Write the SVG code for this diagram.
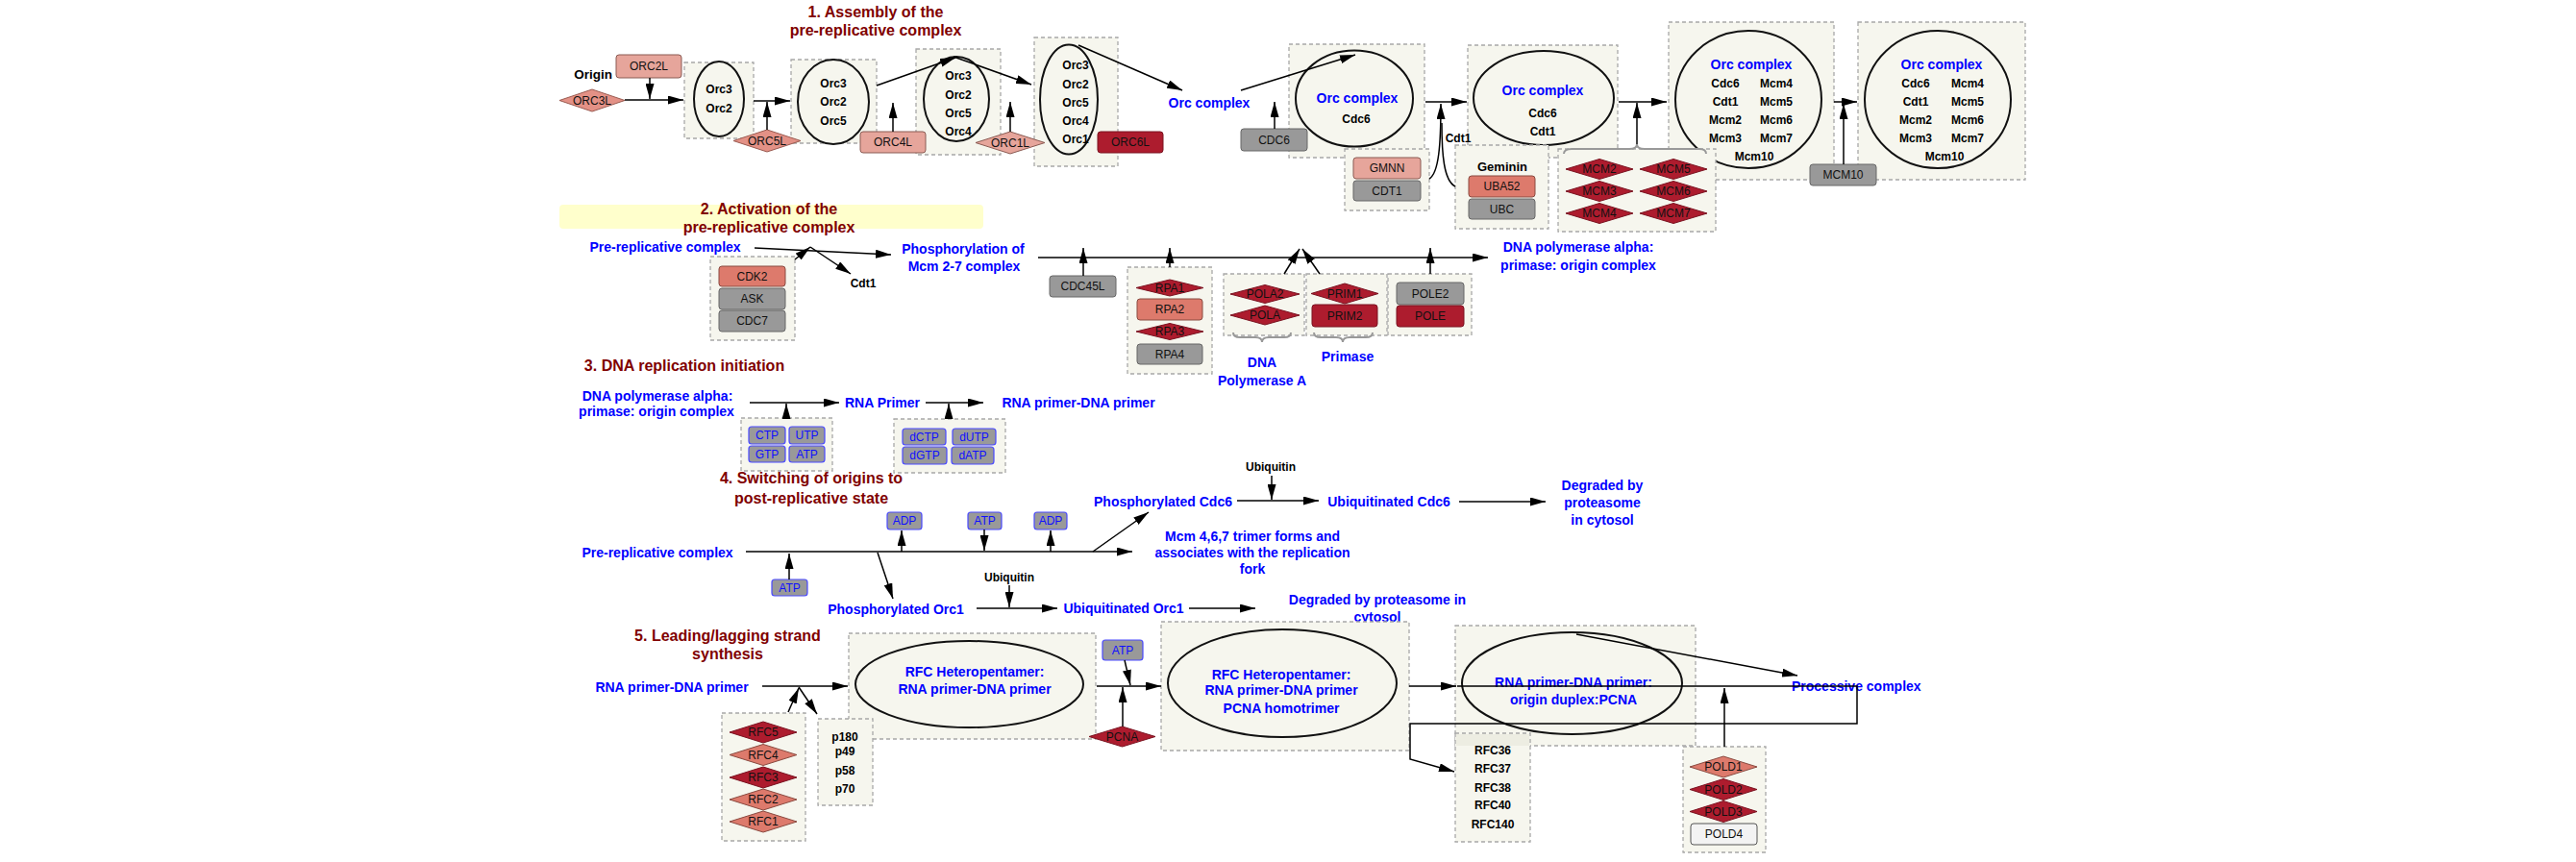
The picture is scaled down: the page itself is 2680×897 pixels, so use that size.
<svg xmlns="http://www.w3.org/2000/svg" width="2680" height="897" viewBox="0 0 2680 897">
<defs>
<marker id="a" viewBox="0 0 16 9" refX="16" refY="4.5" markerWidth="16" markerHeight="9" markerUnits="userSpaceOnUse" orient="auto"><path d="M0,0 L16,4.5 L0,9 Z" fill="#000"/></marker>
<style>
text{font-family:"Liberation Sans",Arial,sans-serif;dominant-baseline:central;text-anchor:middle}
.bx{fill:#F6F6EE;stroke:#A8A8A8;stroke-width:1.3;stroke-dasharray:4 3}
.el{fill:#F6F6EE;stroke:#111;stroke-width:2}
.dr{fill:#AD1C2E;stroke:#7A1220;stroke-width:1}
.sl{fill:#E6A59B;stroke:#8A5A52;stroke-width:1}
.sd{fill:#E39186;stroke:#9A5A50;stroke-width:1}
.sm{fill:#DD7A6C;stroke:#8A4A40;stroke-width:1}
.gr{fill:#999999;stroke:#666;stroke-width:1}
.nt{fill:#999999;stroke:#4A4AFF;stroke-width:1.2}
.wh{fill:#F3F3F3;stroke:#555;stroke-width:1}
.t{font-size:12px;fill:#111}
.nb{font-size:12px;fill:#1010FF}
.b{font-size:12px;font-weight:bold;fill:#000}
.bl{font-size:14px;font-weight:bold;fill:#0000FF}
.h{font-size:16px;font-weight:bold;fill:#800000}
.c line,.c path,.c polyline{stroke:#000;stroke-width:1.5;fill:none;marker-end:url(#a)}
.br{fill:none;stroke:#999;stroke-width:2}
</style>
</defs>
<rect width="2680" height="897" fill="#fff"/>

<!-- Section 1 -->
<g id="title1"><text class="h" x="911" y="12">1. Assembly of the</text><text class="h" x="911" y="31">pre-replicative complex</text></g>
<g id="origin"><text class="b" x="617" y="77" style="font-size:13.5px">Origin</text></g>
<g id="ORC2L"><rect class="sl" x="641" y="57" width="68" height="24" rx="3"/><text class="t" x="675" y="69">ORC2L</text></g>
<g id="ORC3L"><polygon class="sd" points="582,104.5 616,93 650,104.5 616,116"/><text class="t" x="616" y="104.5">ORC3L</text></g>
<g id="c1"><rect class="bx" x="712" y="65" width="72" height="79"/><ellipse class="el" cx="748" cy="103" rx="26" ry="39"/><text class="b" x="748" y="93">Orc3</text><text class="b" x="748" y="113">Orc2</text></g>
<g id="c2"><rect class="bx" x="823" y="62" width="89" height="87"/><ellipse class="el" cx="867" cy="106" rx="37" ry="44"/><text class="b" x="867" y="87">Orc3</text><text class="b" x="867" y="106">Orc2</text><text class="b" x="867" y="126">Orc5</text></g>
<g id="ORC5L"><polygon class="sd" points="763,146.5 798,135 833,146.5 798,158"/><text class="t" x="798" y="146.5">ORC5L</text></g>
<g id="c3"><rect class="bx" x="953" y="51" width="88" height="110"/><ellipse class="el" cx="995" cy="103" rx="34" ry="44"/><text class="b" x="997" y="79">Orc3</text><text class="b" x="997" y="99">Orc2</text><text class="b" x="997" y="118">Orc5</text><text class="b" x="997" y="137">Orc4</text></g>
<g id="ORC4L"><rect class="sl" x="895" y="137" width="68" height="22" rx="3"/><text class="t" x="929" y="148">ORC4L</text></g>
<g id="c4"><rect class="bx" x="1076" y="39" width="87" height="134"/><ellipse class="el" cx="1112" cy="103.5" rx="30" ry="57"/><text class="b" x="1119" y="68">Orc3</text><text class="b" x="1119" y="88">Orc2</text><text class="b" x="1119" y="107">Orc5</text><text class="b" x="1119" y="126">Orc4</text><text class="b" x="1119" y="145">Orc1</text></g>
<g id="ORC1L"><polygon class="sl" points="1015,148.5 1051,137 1087,148.5 1051,160"/><text class="t" x="1051" y="148.5">ORC1L</text></g>
<g id="ORC6L"><rect class="dr" x="1142" y="137" width="68" height="22" rx="3"/><text class="t" x="1176" y="148">ORC6L</text></g>
<g id="orccomplex1"><text class="bl" x="1258" y="107">Orc complex</text></g>
<g id="c5"><rect class="bx" x="1341" y="46" width="141" height="118"/><ellipse class="el" cx="1409" cy="102.5" rx="61" ry="50"/><text class="bl" x="1412" y="102">Orc complex</text><text class="b" x="1411" y="124">Cdc6</text></g>
<g id="CDC6"><rect class="gr" x="1291" y="134" width="69" height="23" rx="3"/><text class="t" x="1325.5" y="145.5">CDC6</text></g>
<g id="gmnn"><rect class="bx" x="1399" y="155" width="88" height="64"/><rect class="sl" x="1408" y="164" width="70" height="22" rx="3"/><text class="t" x="1443" y="175">GMNN</text><rect class="gr" x="1408" y="188" width="70" height="21" rx="3"/><text class="t" x="1443" y="198.5">CDT1</text></g>
<g id="c7"><rect class="bx" x="1527" y="47" width="156" height="117"/><ellipse class="el" cx="1606" cy="102" rx="73" ry="49"/><text class="bl" x="1605" y="94">Orc complex</text><text class="b" x="1605" y="118">Cdc6</text><text class="b" x="1605" y="137">Cdt1</text></g>
<g id="geminin"><rect class="bx" x="1514" y="151" width="97" height="87"/><text class="b" x="1563" y="173" style="font-size:13px">Geminin</text><rect class="sm" x="1528" y="183" width="69" height="22" rx="3"/><text class="t" x="1562.5" y="194">UBA52</text><rect class="gr" x="1528" y="207" width="69" height="21" rx="3"/><text class="t" x="1562.5" y="217.5">UBC</text></g>
<g id="cdt1label"><text class="b" x="1517" y="144">Cdt1</text></g>
<g id="c9"><rect class="bx" x="1736" y="23" width="172" height="164"/><ellipse class="el" cx="1819" cy="103.5" rx="76" ry="71.5"/><text class="bl" x="1822" y="67">Orc complex</text>
<text class="b" x="1795" y="87">Cdc6</text><text class="b" x="1795" y="106">Cdt1</text><text class="b" x="1795" y="125">Mcm2</text><text class="b" x="1795" y="144">Mcm3</text>
<text class="b" x="1848" y="87">Mcm4</text><text class="b" x="1848" y="106">Mcm5</text><text class="b" x="1848" y="125">Mcm6</text><text class="b" x="1848" y="144">Mcm7</text><text class="b" x="1825" y="163">Mcm10</text></g>
<g id="mcm"><rect class="bx" x="1621" y="155" width="164" height="86"/>
<polygon class="dr" points="1629,176 1664,165.5 1699,176 1664,186.5"/><text class="t" x="1664" y="176">MCM2</text>
<polygon class="dr" points="1706,176 1741,165.5 1776,176 1741,186.5"/><text class="t" x="1741" y="176">MCM5</text>
<polygon class="dr" points="1629,199 1664,188.5 1699,199 1664,209.5"/><text class="t" x="1664" y="199">MCM3</text>
<polygon class="dr" points="1706,199 1741,188.5 1776,199 1741,209.5"/><text class="t" x="1741" y="199">MCM6</text>
<polygon class="dr" points="1629,222 1664,211.5 1699,222 1664,232.5"/><text class="t" x="1664" y="222">MCM4</text>
<polygon class="dr" points="1706,222 1741,211.5 1776,222 1741,232.5"/><text class="t" x="1741" y="222">MCM7</text>
<path class="br" d="M1627,160 Q1627,155 1635,155 L1695,155 Q1703,155 1703,150 Q1703,155 1711,155 L1768,155 Q1775,155 1775,160"/></g>
<g id="c10"><rect class="bx" x="1933" y="23" width="174" height="164"/><ellipse class="el" cx="2016" cy="103.5" rx="76" ry="71.5"/><text class="bl" x="2020" y="67">Orc complex</text>
<text class="b" x="1993" y="87">Cdc6</text><text class="b" x="1993" y="106">Cdt1</text><text class="b" x="1993" y="125">Mcm2</text><text class="b" x="1993" y="144">Mcm3</text>
<text class="b" x="2047" y="87">Mcm4</text><text class="b" x="2047" y="106">Mcm5</text><text class="b" x="2047" y="125">Mcm6</text><text class="b" x="2047" y="144">Mcm7</text><text class="b" x="2023" y="163">Mcm10</text></g>
<g id="MCM10"><rect class="gr" x="1883" y="171" width="69" height="22" rx="3"/><text class="t" x="1917.5" y="182">MCM10</text></g>

<!-- Section 2 -->
<g id="title2"><rect x="582" y="213" width="441" height="25" rx="4" fill="#FFFFCC"/><text class="h" x="800" y="217">2. Activation of the</text><text class="h" x="800" y="236">pre-replicative complex</text></g>
<g id="prerep2"><text class="bl" x="692" y="257">Pre-replicative complex</text></g>
<g id="cdk"><rect class="bx" x="739" y="267" width="88" height="87"/><rect class="sm" x="748" y="277" width="69" height="21" rx="3"/><text class="t" x="782.5" y="287.5">CDK2</text><rect class="gr" x="748" y="300" width="69" height="22" rx="3"/><text class="t" x="782.5" y="311">ASK</text><rect class="gr" x="748" y="323" width="69" height="22" rx="3"/><text class="t" x="782.5" y="334">CDC7</text></g>
<g id="cdt1b"><text class="b" x="898" y="295">Cdt1</text></g>
<g id="phosmcm"><text class="bl" x="1002" y="259">Phosphorylation of</text><text class="bl" x="1003" y="277">Mcm 2-7 complex</text></g>
<g id="CDC45L"><rect class="gr" x="1092" y="287" width="69" height="22" rx="3"/><text class="t" x="1126.5" y="298">CDC45L</text></g>
<g id="rpa"><rect class="bx" x="1173" y="278" width="88" height="111"/>
<polygon class="dr" points="1182,299.5 1217,291 1252,299.5 1217,308"/><text class="t" x="1217" y="299.5">RPA1</text>
<rect class="sm" x="1183" y="311" width="68" height="22" rx="3"/><text class="t" x="1217" y="322">RPA2</text>
<polygon class="dr" points="1182,345 1217,336.5 1252,345 1217,353.5"/><text class="t" x="1217" y="345">RPA3</text>
<rect class="gr" x="1183" y="358" width="68" height="21" rx="3"/><text class="t" x="1217" y="368.5">RPA4</text></g>
<g id="pola"><rect class="bx" x="1273" y="285" width="84" height="64"/>
<polygon class="dr" points="1280,306 1316,296.5 1352,306 1316,315.5"/><text class="t" x="1316" y="306">POLA2</text>
<polygon class="dr" points="1280,328 1316,318 1352,328 1316,338"/><text class="t" x="1316" y="328">POLA</text>
<path class="br" d="M1283,346 Q1283,351 1290,351 L1306,351 Q1313,351 1313,356 Q1313,351 1320,351 L1336,351 Q1343,351 1343,346"/>
<text class="bl" x="1313" y="377">DNA</text><text class="bl" x="1313" y="396">Polymerase A</text></g>
<g id="primase"><rect class="bx" x="1359" y="285" width="84" height="64"/>
<polygon class="dr" points="1364,305.5 1399,295 1434,305.5 1399,316"/><text class="t" x="1399" y="305.5">PRIM1</text>
<rect class="dr" x="1365" y="317" width="68" height="23" rx="3"/><text class="t" x="1399" y="328.5">PRIM2</text>
<path class="br" d="M1367,346 Q1367,351 1374,351 L1390,351 Q1397,351 1397,356 Q1397,351 1404,351 L1421,351 Q1428,351 1428,346"/>
<text class="bl" x="1402" y="371">Primase</text></g>
<g id="pole"><rect class="bx" x="1444" y="285" width="87" height="64"/><rect class="gr" x="1453" y="294" width="70" height="23" rx="3"/><text class="t" x="1488" y="305.5">POLE2</text><rect class="dr" x="1453" y="318" width="70" height="22" rx="3"/><text class="t" x="1488" y="329">POLE</text></g>
<g id="polprim"><text class="bl" x="1642" y="257">DNA polymerase alpha:</text><text class="bl" x="1642" y="276">primase: origin complex</text></g>

<!-- Section 3 -->
<g id="title3"><text class="h" x="712" y="380">3. DNA replication initiation</text></g>
<g id="polprim3"><text class="bl" x="684" y="412">DNA polymerase alpha:</text><text class="bl" x="683" y="428">primase: origin complex</text></g>
<g id="ntp"><rect class="bx" x="771" y="435" width="95" height="55"/>
<rect class="nt" x="779" y="444" width="38" height="18" rx="3"/><text class="nb" x="798" y="453">CTP</text>
<rect class="nt" x="821" y="444" width="37" height="18" rx="3"/><text class="nb" x="839.5" y="453">UTP</text>
<rect class="nt" x="779" y="464" width="38" height="17" rx="3"/><text class="nb" x="798" y="472.5">GTP</text>
<rect class="nt" x="821" y="464" width="37" height="17" rx="3"/><text class="nb" x="839.5" y="472.5">ATP</text></g>
<g id="rnaprimer"><text class="bl" x="918" y="419">RNA Primer</text></g>
<g id="dntp"><rect class="bx" x="930" y="436" width="116" height="56"/>
<rect class="nt" x="939" y="446" width="45" height="17" rx="3"/><text class="nb" x="961.5" y="454.5">dCTP</text>
<rect class="nt" x="991" y="446" width="45" height="17" rx="3"/><text class="nb" x="1013.5" y="454.5">dUTP</text>
<rect class="nt" x="939" y="465" width="46" height="18" rx="3"/><text class="nb" x="962" y="474">dGTP</text>
<rect class="nt" x="990" y="465" width="44" height="18" rx="3"/><text class="nb" x="1012" y="474">dATP</text></g>
<g id="rnadna3"><text class="bl" x="1122" y="419">RNA primer-DNA primer</text></g>

<!-- Section 4 -->
<g id="title4"><text class="h" x="844" y="497">4. Switching of origins to</text><text class="h" x="844" y="518">post-replicative state</text></g>
<g id="prerep4"><text class="bl" x="684" y="575">Pre-replicative complex</text></g>
<g id="atp4a"><rect class="nt" x="803" y="603" width="37" height="17" rx="3"/><text class="nb" x="821.5" y="611.5">ATP</text></g>
<g id="adp4a"><rect class="nt" x="923" y="533" width="36" height="18" rx="3"/><text class="nb" x="941" y="542">ADP</text></g>
<g id="atp4b"><rect class="nt" x="1007" y="533" width="35" height="18" rx="3"/><text class="nb" x="1024.5" y="542">ATP</text></g>
<g id="adp4b"><rect class="nt" x="1076" y="533" width="34" height="18" rx="3"/><text class="nb" x="1093" y="542">ADP</text></g>
<g id="phoscdc6"><text class="bl" x="1210" y="522">Phosphorylated Cdc6</text></g>
<g id="ubq1"><text class="b" x="1322" y="486">Ubiquitin</text></g>
<g id="ubcdc6"><text class="bl" x="1445" y="522">Ubiquitinated Cdc6</text></g>
<g id="deg1"><text class="bl" x="1667" y="505">Degraded by</text><text class="bl" x="1667" y="523">proteasome</text><text class="bl" x="1667" y="541">in cytosol</text></g>
<g id="mcm467"><text class="bl" x="1303" y="558">Mcm 4,6,7 trimer forms and</text><text class="bl" x="1303" y="575">associates with the replication</text><text class="bl" x="1303" y="592">fork</text></g>
<g id="phosorc1"><text class="bl" x="932" y="634">Phosphorylated Orc1</text></g>
<g id="ubq2"><text class="b" x="1050" y="601">Ubiquitin</text></g>
<g id="uborc1"><text class="bl" x="1169" y="633">Ubiquitinated Orc1</text></g>
<g id="deg2"><text class="bl" x="1433" y="624">Degraded by proteasome in</text><text class="bl" x="1433" y="642">cytosol</text></g>

<!-- Section 5 -->
<g id="title5"><text class="h" x="757" y="661">5. Leading/lagging strand</text><text class="h" x="757" y="680">synthesis</text></g>
<g id="rnadna5"><text class="bl" x="699" y="715">RNA primer-DNA primer</text></g>
<g id="rfc"><rect class="bx" x="751" y="742" width="87" height="133"/>
<polygon class="dr" points="759,762 794,751 829,762 794,773"/><text class="t" x="794" y="762">RFC5</text>
<polygon class="sm" points="759,785.5 794,774.5 829,785.5 794,796.5"/><text class="t" x="794" y="785.5">RFC4</text>
<polygon class="dr" points="759,809 794,798 829,809 794,820"/><text class="t" x="794" y="809">RFC3</text>
<polygon class="sm" points="759,832 794,821 829,832 794,843"/><text class="t" x="794" y="832">RFC2</text>
<polygon class="sm" points="759,855 794,844 829,855 794,866"/><text class="t" x="794" y="855">RFC1</text></g>
<g id="rfchet1"><rect class="bx" x="883" y="659" width="257" height="110"/><ellipse class="el" cx="1008.5" cy="712" rx="118.5" ry="45"/><text class="bl" x="1014" y="699">RFC Heteropentamer:</text><text class="bl" x="1014" y="717">RNA primer-DNA primer</text></g>
<g id="pbox"><rect class="bx" x="851" y="748" width="57" height="90"/><text class="b" x="879" y="767">p180</text><text class="b" x="879" y="782">p49</text><text class="b" x="879" y="802">p58</text><text class="b" x="879" y="821">p70</text></g>
<g id="atp5"><rect class="nt" x="1147" y="666" width="42" height="21" rx="3"/><text class="nb" x="1168" y="676.5">ATP</text></g>
<g id="PCNA"><polygon class="dr" points="1133,766.5 1167.5,756 1202,766.5 1167.5,777"/><text class="t" x="1167.5" y="766.5">PCNA</text></g>
<g id="rfchet2"><rect class="bx" x="1208" y="647" width="258" height="134"/><ellipse class="el" cx="1334" cy="711" rx="119" ry="56"/><text class="bl" x="1333" y="702">RFC Heteropentamer:</text><text class="bl" x="1333" y="718">RNA primer-DNA primer</text><text class="bl" x="1333" y="737">PCNA homotrimer</text></g>
<g id="origduplex"><rect class="bx" x="1514" y="651" width="250" height="125"/><ellipse class="el" cx="1635.5" cy="711" rx="114.5" ry="53"/><text class="bl" x="1637" y="710">RNA primer-DNA primer:</text><text class="bl" x="1637" y="728">origin duplex:PCNA</text></g>
<g id="rfc36"><rect class="bx" x="1514" y="763" width="78" height="113"/><rect x="1515" y="764" width="76" height="12" fill="#EDEDE2"/><text class="b" x="1553" y="781">RFC36</text><text class="b" x="1553" y="800">RFC37</text><text class="b" x="1553" y="820">RFC38</text><text class="b" x="1553" y="838">RFC40</text><text class="b" x="1553" y="858">RFC140</text></g>
<g id="pold"><rect class="bx" x="1751" y="777" width="86" height="110"/>
<polygon class="sm" points="1758,798 1793,787 1828,798 1793,809"/><text class="t" x="1793" y="798">POLD1</text>
<polygon class="dr" points="1758,821.5 1793,810.5 1828,821.5 1793,832.5"/><text class="t" x="1793" y="821.5">POLD2</text>
<polygon class="dr" points="1758,844.5 1793,833.5 1828,844.5 1793,855.5"/><text class="t" x="1793" y="844.5">POLD3</text>
<rect class="wh" x="1759" y="857" width="69" height="22" rx="3"/><text class="t" x="1793.5" y="868">POLD4</text></g>
<g id="processive"><text class="bl" x="1864" y="714" style="text-anchor:start">Processive complex</text></g>

<!-- Connectors -->
<g id="connectors" class="c">
<line x1="650" y1="104" x2="711" y2="104"/>
<line x1="676" y1="81" x2="676" y2="103"/>
<line x1="784" y1="105" x2="822" y2="105"/>
<line x1="798" y1="135" x2="798" y2="106"/>
<line x1="912" y1="89" x2="994" y2="60"/>
<line x1="929" y1="137" x2="929" y2="107"/>
<line x1="992" y1="59" x2="1073" y2="88"/>
<line x1="1051" y1="137" x2="1051" y2="106"/>
<line x1="1122" y1="47" x2="1230" y2="94"/>
<line x1="1326" y1="134" x2="1326" y2="106"/>
<line x1="1291" y1="94" x2="1410" y2="57"/>
<line x1="1483" y1="106" x2="1526" y2="106"/>
<path d="M1487,186 C1497,180 1499,150 1499,108"/>
<path d="M1514,194 C1502,188 1500,160 1500,128" style="marker-end:none"/>
<line x1="1684" y1="106" x2="1734" y2="106"/>
<line x1="1703" y1="150" x2="1703" y2="107"/>
<line x1="1908" y1="106" x2="1932" y2="106"/>
<line x1="1918" y1="171" x2="1918" y2="108"/>
<line x1="785" y1="258" x2="927" y2="265"/>
<line x1="827" y1="270" x2="843" y2="257"/>
<line x1="843" y1="257" x2="885" y2="285"/>
<line x1="1080" y1="268" x2="1548" y2="268"/>
<line x1="1127" y1="287" x2="1127" y2="258"/>
<line x1="1217" y1="278" x2="1217" y2="258"/>
<line x1="1336" y1="285" x2="1352" y2="259"/>
<line x1="1373" y1="285" x2="1355" y2="259"/>
<line x1="1488" y1="285" x2="1488" y2="258"/>
<line x1="780" y1="419" x2="873" y2="419"/>
<line x1="818" y1="436" x2="818" y2="420"/>
<line x1="963" y1="419" x2="1023" y2="419"/>
<line x1="987" y1="436" x2="987" y2="420"/>
<line x1="776" y1="574" x2="1178" y2="574"/>
<line x1="821" y1="603" x2="821" y2="576"/>
<line x1="938" y1="574" x2="938" y2="552"/>
<line x1="1024" y1="551" x2="1024" y2="573"/>
<line x1="1093" y1="574" x2="1093" y2="552"/>
<line x1="913" y1="575" x2="929" y2="623"/>
<line x1="1137" y1="574" x2="1195" y2="533"/>
<line x1="1287" y1="521" x2="1372" y2="521"/>
<line x1="1323" y1="495" x2="1323" y2="520"/>
<line x1="1518" y1="522" x2="1608" y2="522"/>
<line x1="1016" y1="633" x2="1100" y2="633"/>
<line x1="1050" y1="609" x2="1050" y2="632"/>
<line x1="1237" y1="633" x2="1306" y2="633"/>
<line x1="793" y1="714" x2="882" y2="714"/>
<line x1="820" y1="741" x2="831" y2="716"/>
<line x1="831" y1="715" x2="850" y2="743"/>
<line x1="1170" y1="687" x2="1176" y2="713"/>
<line x1="1168" y1="756" x2="1168" y2="715"/>
<line x1="1141" y1="714" x2="1208" y2="714"/>
<line x1="1466" y1="714" x2="1515" y2="714"/>
<polyline points="1516,714 1932,714 1932,753 1467,753 1467,790 1513,803"/>
<line x1="1640" y1="660" x2="1870" y2="703"/>
<line x1="1794" y1="777" x2="1794" y2="716"/>
</g>
</svg>
